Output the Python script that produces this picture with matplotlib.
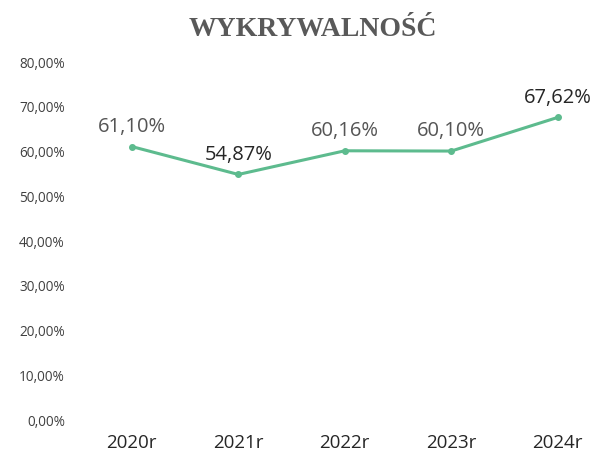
import matplotlib.pyplot as plt

years = ["2020r", "2021r", "2022r", "2023r", "2024r"]
values = [61.10, 54.87, 60.16, 60.10, 67.62]
labels = ["61,10%", "54,87%", "60,16%", "60,10%", "67,62%"]
label_colors = ["#555555", "#262626", "#555555", "#555555", "#262626"]
yticks = [0, 10, 20, 30, 40, 50, 60, 70, 80]

fig = plt.figure(figsize=(6.02, 4.61), dpi=100)
ax = fig.add_axes([85 / 602, 41 / 461, 510 / 602, 358 / 461])

x = list(range(len(years)))
ax.plot(x, values, color="#5dbb8e", linewidth=2.2, marker="o", markersize=4)

for xi, v, lab, c in zip(x, values, labels, label_colors):
    ax.annotate(lab, (xi, v), xytext=(0, 7), textcoords="offset points",
                ha="center", va="bottom", fontsize=14.5, color=c,
                family="Open Sans")

ax.set_xlim(-0.44, 4.35)
ax.set_ylim(0, 80)
ax.set_xticks(x)
ax.set_xticklabels(years, fontsize=13.5, color="#262626", family="Open Sans")
ax.set_yticks(yticks)
ax.set_yticklabels([f"{t},00%" for t in yticks], fontsize=9.8, color="#404040",
                   family="Open Sans")
ax.tick_params(length=0)
ax.tick_params(axis="y", pad=14.5)
ax.tick_params(axis="x", pad=10)
for s in ax.spines.values():
    s.set_visible(False)

fig.text(0.52, 0.935, "WYKRYWALNOŚĆ", ha="center", va="center", fontsize=20,
         fontweight="bold", color="#595959", family="Liberation Serif")

fig.savefig("out.png", dpi=100)
